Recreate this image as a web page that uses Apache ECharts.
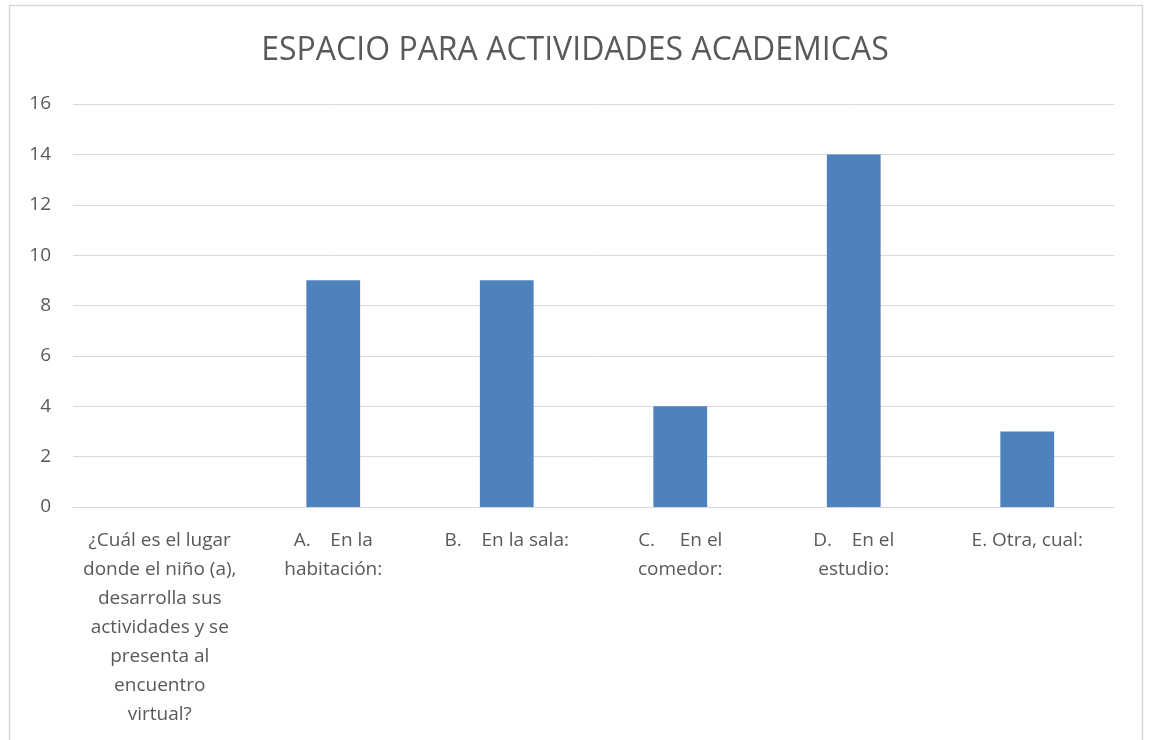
<!DOCTYPE html>
<html>
<head>
<meta charset="utf-8">
<script src="https://cdn.jsdelivr.net/npm/echarts@6/dist/echarts.min.js"></script>
<style>
    html, body { margin: 0; padding: 0; background: #fff; }
    #chart { width: 1150px; height: 740px; }
</style>
</head>
<body>
<div id="chart"></div>
<script>
    // datos del grafico
    var categorias = [
        '¿Cuál es el lugar\ndonde el niño (a),\ndesarrolla sus\nactividades y se\npresenta al\nencuentro\nvirtual?',
        'A.    En la\nhabitación:',
        'B.    En la sala:',
        'C.     En el\ncomedor:',
        'D.    En el\nestudio:',
        'E. Otra, cual:'
    ];
    var valores = [0, 9, 9, 4, 14, 3];
    var titulo = 'ESPACIO PARA ACTIVIDADES ACADEMICAS';

    var fuente = '"Open Sans", "Noto Sans", sans-serif';
    var myChart = echarts.init(document.getElementById('chart'));
    myChart.setOption({
        animation: false,
        title: {
            text: titulo,
            left: 'center',
            top: 30,
            textStyle: {
                fontFamily: fuente,
                fontSize: 32,
                fontWeight: 'normal',
                color: '#595959'
            }
        },
        graphic: [{
            type: 'rect',
            shape: { x: 9.5, y: 5.5, width: 1133, height: 760 },
            style: { fill: 'none', stroke: '#D9D9D9', lineWidth: 1.5 },
            silent: true
        }],
        grid: {
            left: 73,
            right: 36,
            top: 104,
            bottom: 233
        },
        xAxis: {
            type: 'category',
            data: categorias,
            axisTick: { show: false },
            axisLine: { lineStyle: { color: '#D9D9D9', width: 1 } },
            axisLabel: {
                interval: 0,
                margin: 19,
                align: 'center',
                verticalAlign: 'top',
                lineHeight: 29,
                fontFamily: fuente,
                fontSize: 19,
                color: '#595959'
            }
        },
        yAxis: {
            type: 'value',
            min: 0,
            max: 16,
            interval: 2,
            axisLine: { show: false },
            axisTick: { show: false },
            splitLine: { lineStyle: { color: '#D9D9D9', width: 1 } },
            axisLabel: {
                margin: 22,
                fontFamily: fuente,
                fontSize: 19,
                color: '#595959'
            }
        },
        series: [{
            type: 'bar',
            data: valores,
            barWidth: '31%',
            itemStyle: { color: '#4F81BD' }
        }]
    });
</script>
</body>
</html>
